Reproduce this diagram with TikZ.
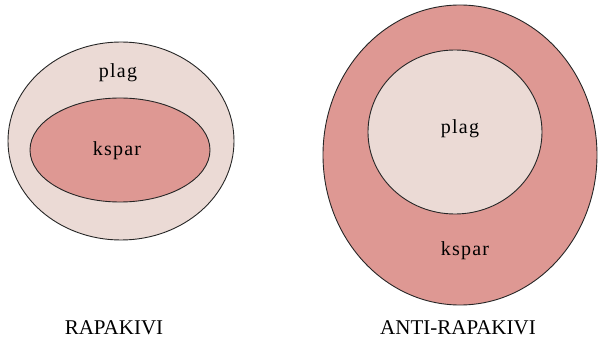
\documentclass[tikz,border=0pt]{standalone}
\usepackage{fontspec}
\setmainfont{Liberation Serif}
\newfontfamily\spacedfont{Liberation Serif}[LetterSpace=6]
\begin{document}
\begin{tikzpicture}[x=1pt,y=-1pt,
  lightfill/.style={fill=light,draw=black!85,line width=0.9pt},
  darkfill/.style={fill=dark,draw=black!85,line width=0.9pt},
  lbl/.style={font=\spacedfont\fontsize{20}{22}\selectfont,inner sep=0pt},
  captext/.style={font=\fontsize{21}{24}\selectfont,inner sep=0pt}]
\definecolor{light}{HTML}{EBDAD5}
\definecolor{dark}{HTML}{DE9893}
\useasboundingbox (0,0) rectangle (598,339);
% Rapakivi
\path[lightfill] (121,141) ellipse [x radius=113, y radius=99];
\path[darkfill] (120,150) ellipse [x radius=90, y radius=52];
\node[lbl] (plagL) at (118,73) {plag};
\node[lbl] (ksparL) at (117,151) {kspar};
\node[captext] (rapa) at (114,328) {RAPAKIVI};
% Anti-rapakivi
\path[darkfill] (460,155) ellipse [x radius=137, y radius=150];
\path[lightfill] (455,132) ellipse [x radius=87, y radius=82];
\node[lbl] (plagR) at (460,129) {plag};
\node[lbl] (ksparR) at (465,251) {kspar};
\node[captext] (anti) at (458,328) {ANTI-RAPAKIVI};
\end{tikzpicture}
\end{document}
